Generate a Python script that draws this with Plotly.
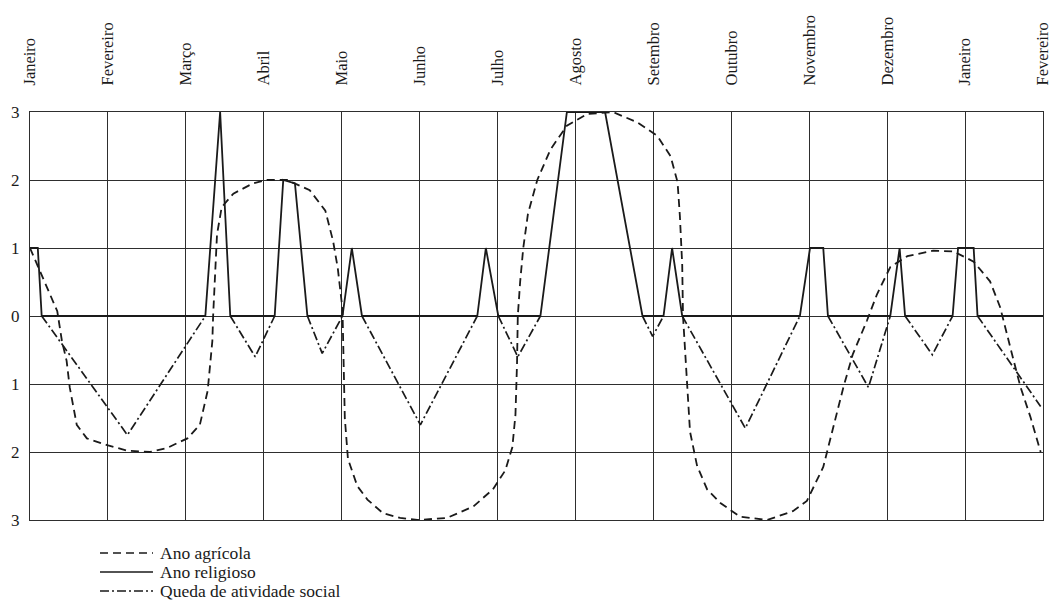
import plotly.graph_objects as go

months = ["Janeiro", "Fevereiro", "Março", "Abril", "Maio", "Junho", "Julho",
          "Agosto", "Setembro", "Outubro", "Novembro", "Dezembro", "Janeiro", "Fevereiro"]
y_ticks = [-3, -2, -1, 0, 1, 2, 3]
y_ticktext = ["3", "2", "1", "0", "1", "2", "3"]

# Ano agrícola (dashed)
agri_x = [0.00, 0.35, 0.41, 0.47, 0.51, 0.60, 0.73, 0.99, 1.25, 1.54, 1.76, 2.02, 2.18, 2.28,
          2.34, 2.35, 2.40, 2.46, 2.61, 2.86, 3.04, 3.30, 3.59, 3.79, 3.89, 3.95, 4.01, 4.02,
          4.04, 4.08, 4.20, 4.33, 4.53, 4.75, 4.97, 5.35, 5.69, 5.94, 6.10, 6.19, 6.23, 6.25,
          6.26, 6.29, 6.33, 6.39, 6.51, 6.68, 6.89, 7.15, 7.48, 7.79, 8.05, 8.22, 8.31, 8.34,
          8.37, 8.38, 8.43, 8.47, 8.56, 8.69, 8.86, 9.11, 9.46, 9.79, 9.97, 10.18, 10.31, 10.44,
          10.56, 10.74, 10.87, 11.04, 11.26, 11.59, 11.85, 12.11, 12.32, 12.45, 12.58, 12.71,
          12.84, 12.97]
agri_y = [1.0, 0.07, -0.37, -0.66, -1.05, -1.6, -1.8, -1.9, -1.98, -2.0, -1.94, -1.8, -1.6, -1.1,
          -0.37, 0.0, 1.2, 1.6, 1.8, 1.95, 2.0, 2.0, 1.85, 1.55, 1.1, 0.7, 0.1, -0.37,
          -1.5, -2.1, -2.5, -2.7, -2.9, -2.97, -3.0, -2.97, -2.8, -2.55, -2.27, -1.93, -1.45, -0.7,
          0.0, 0.5, 1.0, 1.5, 2.0, 2.45, 2.8, 2.97, 3.0, 2.85, 2.65, 2.35, 1.97, 1.47,
          0.75, 0.0, -0.97, -1.7, -2.2, -2.55, -2.75, -2.95, -3.0, -2.87, -2.72, -2.22, -1.63, -1.04,
          -0.56, -0.07, 0.32, 0.72, 0.88, 0.96, 0.95, 0.8, 0.51, 0.13, -0.46, -1.04,
          -1.49, -2.0]

# Ano religioso (solid)
rel_x = [0.00, 0.10, 0.15, 2.25, 2.44, 2.57, 3.14, 3.25, 3.40, 3.56, 4.01, 4.13, 4.26, 5.74,
         5.85, 6.01, 6.55, 6.89, 7.38, 7.86, 8.13, 8.24, 8.37, 9.88, 10.01, 10.18, 10.24, 11.04,
         11.16, 11.23, 11.84, 11.91, 12.11, 12.16, 13.0]
rel_y = [1, 1, 0, 0, 3, 0, 0, 2, 1.95, 0, 0, 1, 0, 0,
         1, 0, 0, 3, 3, 0, 0, 1, 0, 0, 1, 1, 0, 0,
         1, 0, 0, 1, 1, 0, 0]

# Queda de atividade social (dash-dot), separate V segments
queda_x = [0.15, 1.25, 2.25, None, 2.57, 2.89, 3.14, None, 3.56, 3.75, 4.01, None,
           4.26, 5.01, 5.74, None, 6.01, 6.26, 6.55, None, 7.86, 7.99, 8.13, None,
           8.37, 9.18, 9.88, None, 10.24, 10.76, 11.04, None, 11.23, 11.58, 11.84, None,
           12.16, 12.97]
queda_y = [0, -1.75, 0, None, 0, -0.6, 0, None, 0, -0.55, 0, None,
           0, -1.6, 0, None, 0, -0.6, 0, None, 0, -0.3, 0, None,
           0, -1.65, 0, None, 0, -1.05, 0, None, 0, -0.57, 0, None,
           0, -1.33]

legend_labels = ["Ano agrícola", "Ano religioso", "Queda de atividade social"]

INK = "#1a1a1a"
GRID = "#2e2e2e"
FONT = "Liberation Serif"
DASH = "8px,5px"
DASHDOT = "9px,3px,2px,3px"

fig = go.Figure()
fig.add_trace(go.Scatter(x=agri_x, y=agri_y, mode="lines", name=legend_labels[0],
                         line=dict(color=INK, width=1.8, dash=DASH), showlegend=False))
fig.add_trace(go.Scatter(x=rel_x, y=rel_y, mode="lines", name=legend_labels[1],
                         line=dict(color=INK, width=1.8), showlegend=False))
fig.add_trace(go.Scatter(x=queda_x, y=queda_y, mode="lines", name=legend_labels[2],
                         line=dict(color=INK, width=1.7, dash=DASHDOT), showlegend=False,
                         connectgaps=False))

W, H = 1051, 608
ML, MR, MT, MB = 30, 8, 112, 88
pw, ph = W - ML - MR, H - MT - MB

def px_to_paper(px, py):
    return (px - ML) / pw, (H - MB - py) / ph

# manual legend (samples + labels)
styles = [DASH, "solid", DASHDOT]
rows_py = [553, 572, 591]
for lab, st, py in zip(legend_labels, styles, rows_py):
    x0, y0 = px_to_paper(100, py)
    x1, _ = px_to_paper(153, py)
    fig.add_shape(type="line", xref="paper", yref="paper", x0=x0, x1=x1, y0=y0, y1=y0,
                  line=dict(color=INK, width=1.6, dash=st))
    tx, _ = px_to_paper(158, py)
    fig.add_annotation(text=lab, xref="paper", yref="paper", x=tx, y=y0, xanchor="left",
                       yanchor="middle", showarrow=False, font=dict(family=FONT, size=17.5, color=INK))

fig.update_layout(
    width=W, height=H,
    margin=dict(l=ML, r=MR, t=MT, b=MB, autoexpand=False),
    paper_bgcolor="white", plot_bgcolor="white",
    font=dict(family=FONT, color=INK),
    xaxis=dict(range=[0, 13], side="top", tickmode="array", tickvals=list(range(14)),
               ticktext=months, tickangle=-90, tickfont=dict(family=FONT, size=16.5, color=INK),
               showgrid=True, gridcolor=GRID, gridwidth=1.3, zeroline=False,
               showline=True, linecolor=GRID, linewidth=1.3, mirror=True, automargin=False,
               ticks="", ticklabelstandoff=22, ticklabeloverflow="allow", fixedrange=True),
    yaxis=dict(range=[-3, 3], tickmode="array", tickvals=y_ticks, ticktext=y_ticktext,
               tickfont=dict(family=FONT, size=17, color=INK),
               showgrid=True, gridcolor=GRID, gridwidth=1.3, zeroline=False,
               showline=True, linecolor=GRID, linewidth=1.3, mirror=True, automargin=False,
               ticks="", ticklabelstandoff=6, ticklabeloverflow="allow", fixedrange=True),
)

fig.write_html(
    "out.html",
    config={"displayModeBar": False},
    post_script="document.body.style.margin='0';document.body.style.overflow='hidden';",
)
